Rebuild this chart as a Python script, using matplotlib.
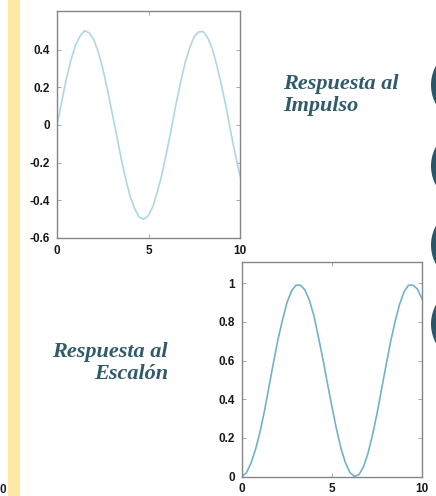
import matplotlib
matplotlib.use("Agg")
import matplotlib.pyplot as plt
from matplotlib.patches import Circle, Rectangle

# Werte (Schritt 0.25 in t)
t = [0.0, 0.25, 0.5, 0.75, 1.0, 1.25, 1.5, 1.75, 2.0, 2.25, 2.5, 2.75, 3.0,
     3.25, 3.5, 3.75, 4.0, 4.25, 4.5, 4.75, 5.0, 5.25, 5.5, 5.75, 6.0, 6.25,
     6.5, 6.75, 7.0, 7.25, 7.5, 7.75, 8.0, 8.25, 8.5, 8.75, 9.0, 9.25, 9.5,
     9.75, 10.0]

impulso = [0.00, 0.12, 0.24, 0.34, 0.42, 0.47, 0.50, 0.49, 0.455, 0.39, 0.30,
           0.19, 0.07, -0.05, -0.175, -0.285, -0.38, -0.445, -0.49, -0.50,
           -0.48, -0.43, -0.35, -0.255, -0.14, -0.02, 0.11, 0.225, 0.33, 0.41,
           0.47, 0.495, 0.495, 0.46, 0.40, 0.31, 0.205, 0.09, -0.04, -0.16,
           -0.27]

escalon = [0.00, 0.02, 0.07, 0.14, 0.23, 0.34, 0.465, 0.59, 0.71, 0.81, 0.90,
           0.96, 0.99, 0.99, 0.965, 0.91, 0.83, 0.72, 0.605, 0.48, 0.36, 0.245,
           0.145, 0.07, 0.02, 0.0, 0.01, 0.05, 0.12, 0.215, 0.325, 0.45, 0.575,
           0.695, 0.80, 0.89, 0.955, 0.99, 0.99, 0.97, 0.92]

xticks = [0, 5, 10]
yticks_imp = [-0.6, -0.4, -0.2, 0, 0.2, 0.4]
yticklabels_imp = ["-0.6", "-0.4", "-0.2", "0", "0.2", "0.4"]
yticks_esc = [0, 0.2, 0.4, 0.6, 0.8, 1]
yticklabels_esc = ["0", "0.2", "0.4", "0.6", "0.8", "1"]

W, H = 436, 496
fig = plt.figure(figsize=(W / 100, H / 100), dpi=100)

# Hintergrund-Ebene in Pixelkoordinaten
bg = fig.add_axes([0, 0, 1, 1], zorder=0)
bg.set_xlim(0, W)
bg.set_ylim(H, 0)
bg.axis("off")
bg.add_patch(Rectangle((8, 0), 12, H, color="#fde8a4", lw=0))
for cy in [85, 166, 245, 324]:
    bg.add_patch(Circle((471, cy), 40, color="#26586a", lw=0))

txt_col = "#2f5b6c"
serif = ["Liberation Serif", "DejaVu Serif"]
# bei mehrzeiligem Text gilt 'baseline' fuer die letzte Zeile
bg.text(283, 111, "Respuesta al\nImpulso", ha="left", va="baseline",
        fontsize=16, fontweight="bold", fontstyle="italic", family=serif,
        color=txt_col, linespacing=1.1)
bg.text(168, 379, "Respuesta al\nEscalón", ha="right", va="baseline",
        fontsize=16, fontweight="bold", fontstyle="italic", family=serif,
        color=txt_col, linespacing=1.1, multialignment="right")
bg.text(0, 493, "0", ha="left", va="baseline", fontsize=8.5,
        fontweight="bold", family="Liberation Sans", color="#222222")


def style_axes(ax, yt, ytl):
    ax.set_xlim(0, 10)
    ax.set_xticks(xticks)
    ax.set_xticklabels([str(v) for v in xticks])
    ax.set_yticks(yt)
    ax.set_yticklabels(ytl)
    for s in ax.spines.values():
        s.set_color("#858585")
        s.set_linewidth(1.0)
    ax.tick_params(direction="in", length=3, width=0.6, color="#9a9a9a",
                   top=True, right=True, labelsize=8.5, pad=5,
                   labelcolor="#1a1a1a")
    for lab in ax.get_xticklabels() + ax.get_yticklabels():
        lab.set_fontweight("bold")
        lab.set_family("Liberation Sans")
    ax.set_facecolor("white")


# 1. Impulsantwort
ax1 = fig.add_axes([57 / W, 1 - 238 / H, 183 / W, 227 / H], zorder=2)
ax1.plot(t, impulso, color="#acd8e3", lw=1.2)
ax1.set_ylim(-0.6, 0.605)
style_axes(ax1, yticks_imp, yticklabels_imp)

# 2. Sprungantwort
ax2 = fig.add_axes([242 / W, 1 - 476.5 / H, 180 / W, 214.5 / H], zorder=1)
ax2.plot(t, escalon, color="#72b2c8", lw=1.2)
ax2.set_ylim(0, 1.11)
style_axes(ax2, yticks_esc, yticklabels_esc)

fig.savefig("out.png", dpi=100)
